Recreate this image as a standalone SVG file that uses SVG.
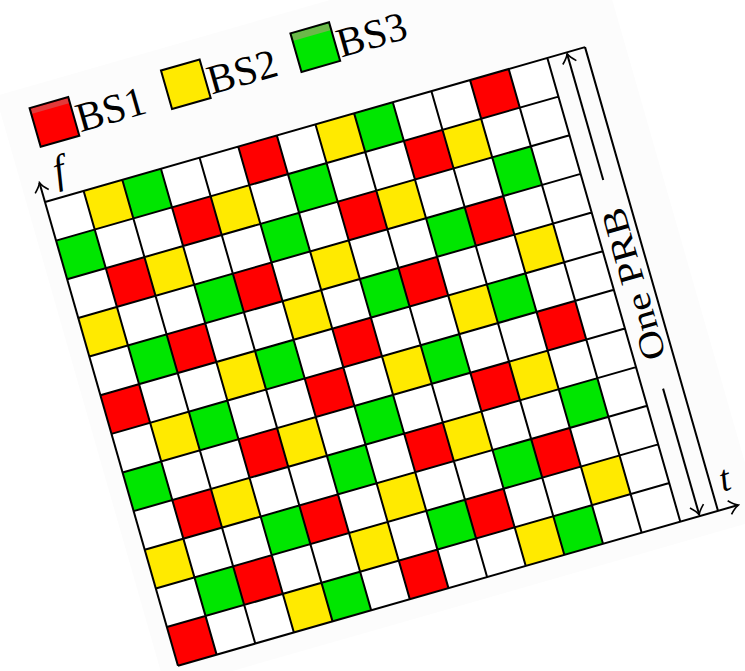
<svg xmlns="http://www.w3.org/2000/svg" width="745" height="671" viewBox="0 0 745 671">
<style>
.R{fill:#ff0000}.Y{fill:#ffea00}.G{fill:#00e600}
.ln{fill:none;stroke:#000;stroke-width:2}
.lg{stroke:#000;stroke-width:2}
.tx{font-family:"Liberation Serif","Times New Roman",serif;fill:#000}
</style>
<defs>
<marker id="arr" viewBox="-12 -9 14 18" markerWidth="14" markerHeight="18" refX="0" refY="0" orient="auto" markerUnits="userSpaceOnUse">
<path d="M-9,-7 C-5,-2.8 -2,-0.8 0,0 C-2,0.8 -5,2.8 -9,7" fill="none" stroke="#000" stroke-width="1.6"/>
</marker>
</defs>
<rect width="745" height="671" fill="#fff"/>
<g transform="translate(45,202) rotate(-16) scale(1.005)">
<rect x="-18" y="-115" width="616" height="615" fill="#fcfcfc"/>
<g id="legend">
<g id="leg-bs1"><rect class="R" x="11" y="-94" width="40" height="40"/><rect x="12" y="-93" width="38" height="5" fill="#e23a3a"/><rect class="lg" x="11" y="-94" width="40" height="40" fill="none"/><text class="tx" x="53" y="-57" font-size="41">BS1</text></g>
<g id="leg-bs2"><rect class="Y lg" x="147" y="-94" width="40" height="40"/><text class="tx" x="189" y="-57" font-size="41">BS2</text></g>
<g id="leg-bs3"><rect class="G" x="281" y="-94" width="40" height="40"/><rect x="282" y="-93" width="38" height="7" fill="#6cb84a"/><rect class="lg" x="281" y="-94" width="40" height="40" fill="none"/><text class="tx" x="323" y="-57" font-size="41">BS3</text></g>
</g>
<g id="grid">
<rect x="0" y="0" width="520" height="480" fill="#fff"/>
<g id="r0"><rect class="Y" x="40" y="0" width="40" height="40"/><rect class="G" x="80" y="0" width="40" height="40"/><rect class="R" x="200" y="0" width="40" height="40"/><rect class="Y" x="280" y="0" width="40" height="40"/><rect class="G" x="320" y="0" width="40" height="40"/><rect class="R" x="440" y="0" width="40" height="40"/></g>
<g id="r1"><rect class="G" x="0" y="40" width="40" height="40"/><rect class="R" x="120" y="40" width="40" height="40"/><rect class="Y" x="160" y="40" width="40" height="40"/><rect class="G" x="240" y="40" width="40" height="40"/><rect class="R" x="360" y="40" width="40" height="40"/><rect class="Y" x="400" y="40" width="40" height="40"/></g>
<g id="r2"><rect class="R" x="40" y="80" width="40" height="40"/><rect class="Y" x="80" y="80" width="40" height="40"/><rect class="G" x="200" y="80" width="40" height="40"/><rect class="R" x="280" y="80" width="40" height="40"/><rect class="Y" x="320" y="80" width="40" height="40"/><rect class="G" x="440" y="80" width="40" height="40"/></g>
<g id="r3"><rect class="Y" x="0" y="120" width="40" height="40"/><rect class="G" x="120" y="120" width="40" height="40"/><rect class="R" x="160" y="120" width="40" height="40"/><rect class="Y" x="240" y="120" width="40" height="40"/><rect class="G" x="360" y="120" width="40" height="40"/><rect class="R" x="400" y="120" width="40" height="40"/></g>
<g id="r4"><rect class="G" x="40" y="160" width="40" height="40"/><rect class="R" x="80" y="160" width="40" height="40"/><rect class="Y" x="200" y="160" width="40" height="40"/><rect class="G" x="280" y="160" width="40" height="40"/><rect class="R" x="320" y="160" width="40" height="40"/><rect class="Y" x="440" y="160" width="40" height="40"/></g>
<g id="r5"><rect class="R" x="0" y="200" width="40" height="40"/><rect class="Y" x="120" y="200" width="40" height="40"/><rect class="G" x="160" y="200" width="40" height="40"/><rect class="R" x="240" y="200" width="40" height="40"/><rect class="Y" x="360" y="200" width="40" height="40"/><rect class="G" x="400" y="200" width="40" height="40"/></g>
<g id="r6"><rect class="Y" x="40" y="240" width="40" height="40"/><rect class="G" x="80" y="240" width="40" height="40"/><rect class="R" x="200" y="240" width="40" height="40"/><rect class="Y" x="280" y="240" width="40" height="40"/><rect class="G" x="320" y="240" width="40" height="40"/><rect class="R" x="440" y="240" width="40" height="40"/></g>
<g id="r7"><rect class="G" x="0" y="280" width="40" height="40"/><rect class="R" x="120" y="280" width="40" height="40"/><rect class="Y" x="160" y="280" width="40" height="40"/><rect class="G" x="240" y="280" width="40" height="40"/><rect class="R" x="360" y="280" width="40" height="40"/><rect class="Y" x="400" y="280" width="40" height="40"/></g>
<g id="r8"><rect class="R" x="40" y="320" width="40" height="40"/><rect class="Y" x="80" y="320" width="40" height="40"/><rect class="G" x="200" y="320" width="40" height="40"/><rect class="R" x="280" y="320" width="40" height="40"/><rect class="Y" x="320" y="320" width="40" height="40"/><rect class="G" x="440" y="320" width="40" height="40"/></g>
<g id="r9"><rect class="Y" x="0" y="360" width="40" height="40"/><rect class="G" x="120" y="360" width="40" height="40"/><rect class="R" x="160" y="360" width="40" height="40"/><rect class="Y" x="240" y="360" width="40" height="40"/><rect class="G" x="360" y="360" width="40" height="40"/><rect class="R" x="400" y="360" width="40" height="40"/></g>
<g id="r10"><rect class="G" x="40" y="400" width="40" height="40"/><rect class="R" x="80" y="400" width="40" height="40"/><rect class="Y" x="200" y="400" width="40" height="40"/><rect class="G" x="280" y="400" width="40" height="40"/><rect class="R" x="320" y="400" width="40" height="40"/><rect class="Y" x="440" y="400" width="40" height="40"/></g>
<g id="r11"><rect class="R" x="0" y="440" width="40" height="40"/><rect class="Y" x="120" y="440" width="40" height="40"/><rect class="G" x="160" y="440" width="40" height="40"/><rect class="R" x="240" y="440" width="40" height="40"/><rect class="Y" x="360" y="440" width="40" height="40"/><rect class="G" x="400" y="440" width="40" height="40"/></g>
<path class="ln" d="M40,0V480M80,0V480M120,0V480M160,0V480M200,0V480M240,0V480M280,0V480M320,0V480M360,0V480M400,0V480M440,0V480M480,0V480M520,0V480M0,40H520M0,80H520M0,120H520M0,160H520M0,200H520M0,240H520M0,280H520M0,320H520M0,360H520M0,400H520M0,440H520M0,0H559M559,0V480"/>
</g>
<g id="connectors">
<line class="ln" x1="0" y1="480" x2="0" y2="-20" marker-end="url(#arr)"/>
<line class="ln" x1="0" y1="480" x2="580" y2="480" marker-end="url(#arr)"/>
<line class="ln" x1="540" y1="132" x2="540" y2="1.5" marker-end="url(#arr)"/>
<line class="ln" x1="540" y1="348" x2="540" y2="478.5" marker-end="url(#arr)"/>
</g>
<g id="labels">
<text class="tx" x="22" y="-14" font-size="40" font-style="italic" text-anchor="middle">f</text>
<text class="tx" x="574" y="463" font-size="37" font-style="italic" text-anchor="middle">t</text>
<text class="tx" transform="translate(552,240) rotate(-90) scale(1,0.85)" font-size="41" text-anchor="middle">One PRB</text>
</g>
</g>
</svg>
